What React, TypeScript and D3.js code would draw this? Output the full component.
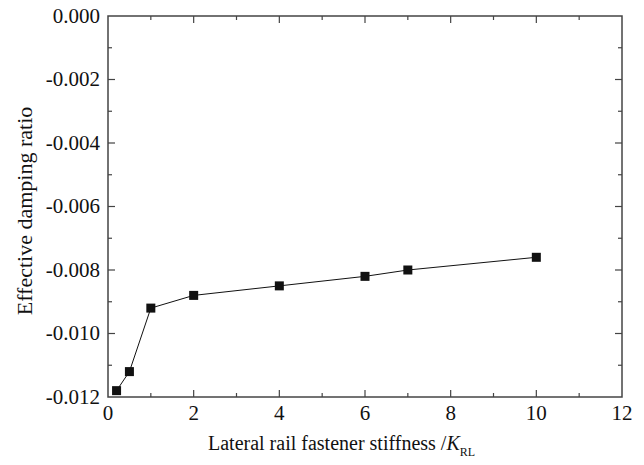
import React from 'react';
import * as d3 from 'd3';

const stiffness = [0.2, 0.5, 1, 2, 4, 6, 7, 10];
const dampingRatio = [-0.0118, -0.0112, -0.0092, -0.0088, -0.0085, -0.0082, -0.008, -0.0076];
const xTicks = [0, 2, 4, 6, 8, 10, 12];
const yTicks = [0, -0.002, -0.004, -0.006, -0.008, -0.01, -0.012];

const width = 644;
const height = 465;
const margin = { top: 16, right: 22, bottom: 68, left: 108 };
const innerW = width - margin.left - margin.right;
const innerH = height - margin.top - margin.bottom;
const font = 'Liberation Serif';
const axisColor = '#444';

const App = () => {
  const x = d3.scaleLinear().domain([0, 12]).range([0, innerW]);
  const y = d3.scaleLinear().domain([-0.012, 0]).range([innerH, 0]);

  const minorX = d3.range(1, 12, 2);
  const minorY = d3.range(-0.011, 0, 0.002);
  const major = 7;
  const minor = 4;

  const pts = stiffness.map((s, i) => [s, dampingRatio[i]] as [number, number]);
  const linePath = d3.line<[number, number]>().x(d => x(d[0])).y(d => y(d[1]))(pts) || '';
  const sq = 9;

  const xTickLines = (vals: number[], len: number) =>
    vals.flatMap(v => [
      <line key={`xb${v}`} x1={x(v)} x2={x(v)} y1={innerH} y2={innerH - len} />,
      <line key={`xt${v}`} x1={x(v)} x2={x(v)} y1={0} y2={len} />,
    ]);
  const yTickLines = (vals: number[], len: number) =>
    vals.flatMap(v => [
      <line key={`yl${v}`} y1={y(v)} y2={y(v)} x1={0} x2={len} />,
      <line key={`yr${v}`} y1={y(v)} y2={y(v)} x1={innerW} x2={innerW - len} />,
    ]);

  return (
    <svg
      width={width}
      height={height}
      style={{ position: 'absolute', left: 0, top: 0, background: '#fff' }}
    >
      <g transform={`translate(${margin.left},${margin.top})`}>
        <rect width={innerW} height={innerH} fill="none" stroke={axisColor} strokeWidth={1.5} />
        <g stroke={axisColor} strokeWidth={1.2}>
          {xTickLines(xTicks.slice(1, -1), major)}
          {xTickLines(minorX, minor)}
          {yTickLines(yTicks.slice(1, -1), major)}
          {yTickLines(minorY, minor)}
        </g>
        {xTicks.map(d => (
          <text key={d} x={x(d)} y={innerH + 23} textAnchor="middle" fontFamily={font} fontSize={21} fill="#111">
            {d3.format('d')(d)}
          </text>
        ))}
        {yTicks.map(d => (
          <text key={d} x={-8} y={y(d)} dy="0.33em" textAnchor="end" fontFamily={font} fontSize={21} fill="#111">
            {d3.format('.3f')(d).replace('−', '-')}
          </text>
        ))}
        <path d={linePath} fill="none" stroke="#111" strokeWidth={1} />
        {pts.map(d => (
          <rect key={d[0]} x={x(d[0]) - sq / 2} y={y(d[1]) - sq / 2} width={sq} height={sq} fill="#111" />
        ))}
      </g>
      <text x={208} y={450} fontFamily={font} fontSize={20} fill="#111">
        <tspan>Lateral rail fastener stiffness /</tspan>
        <tspan fontStyle="italic">K</tspan>
        <tspan fontSize={12} dy={6}>RL</tspan>
      </text>
      <text transform="translate(32,211) rotate(-90)" textAnchor="middle" fontFamily={font} fontSize={22} fill="#111">
        Effective damping ratio
      </text>
    </svg>
  );
};

export default App;
